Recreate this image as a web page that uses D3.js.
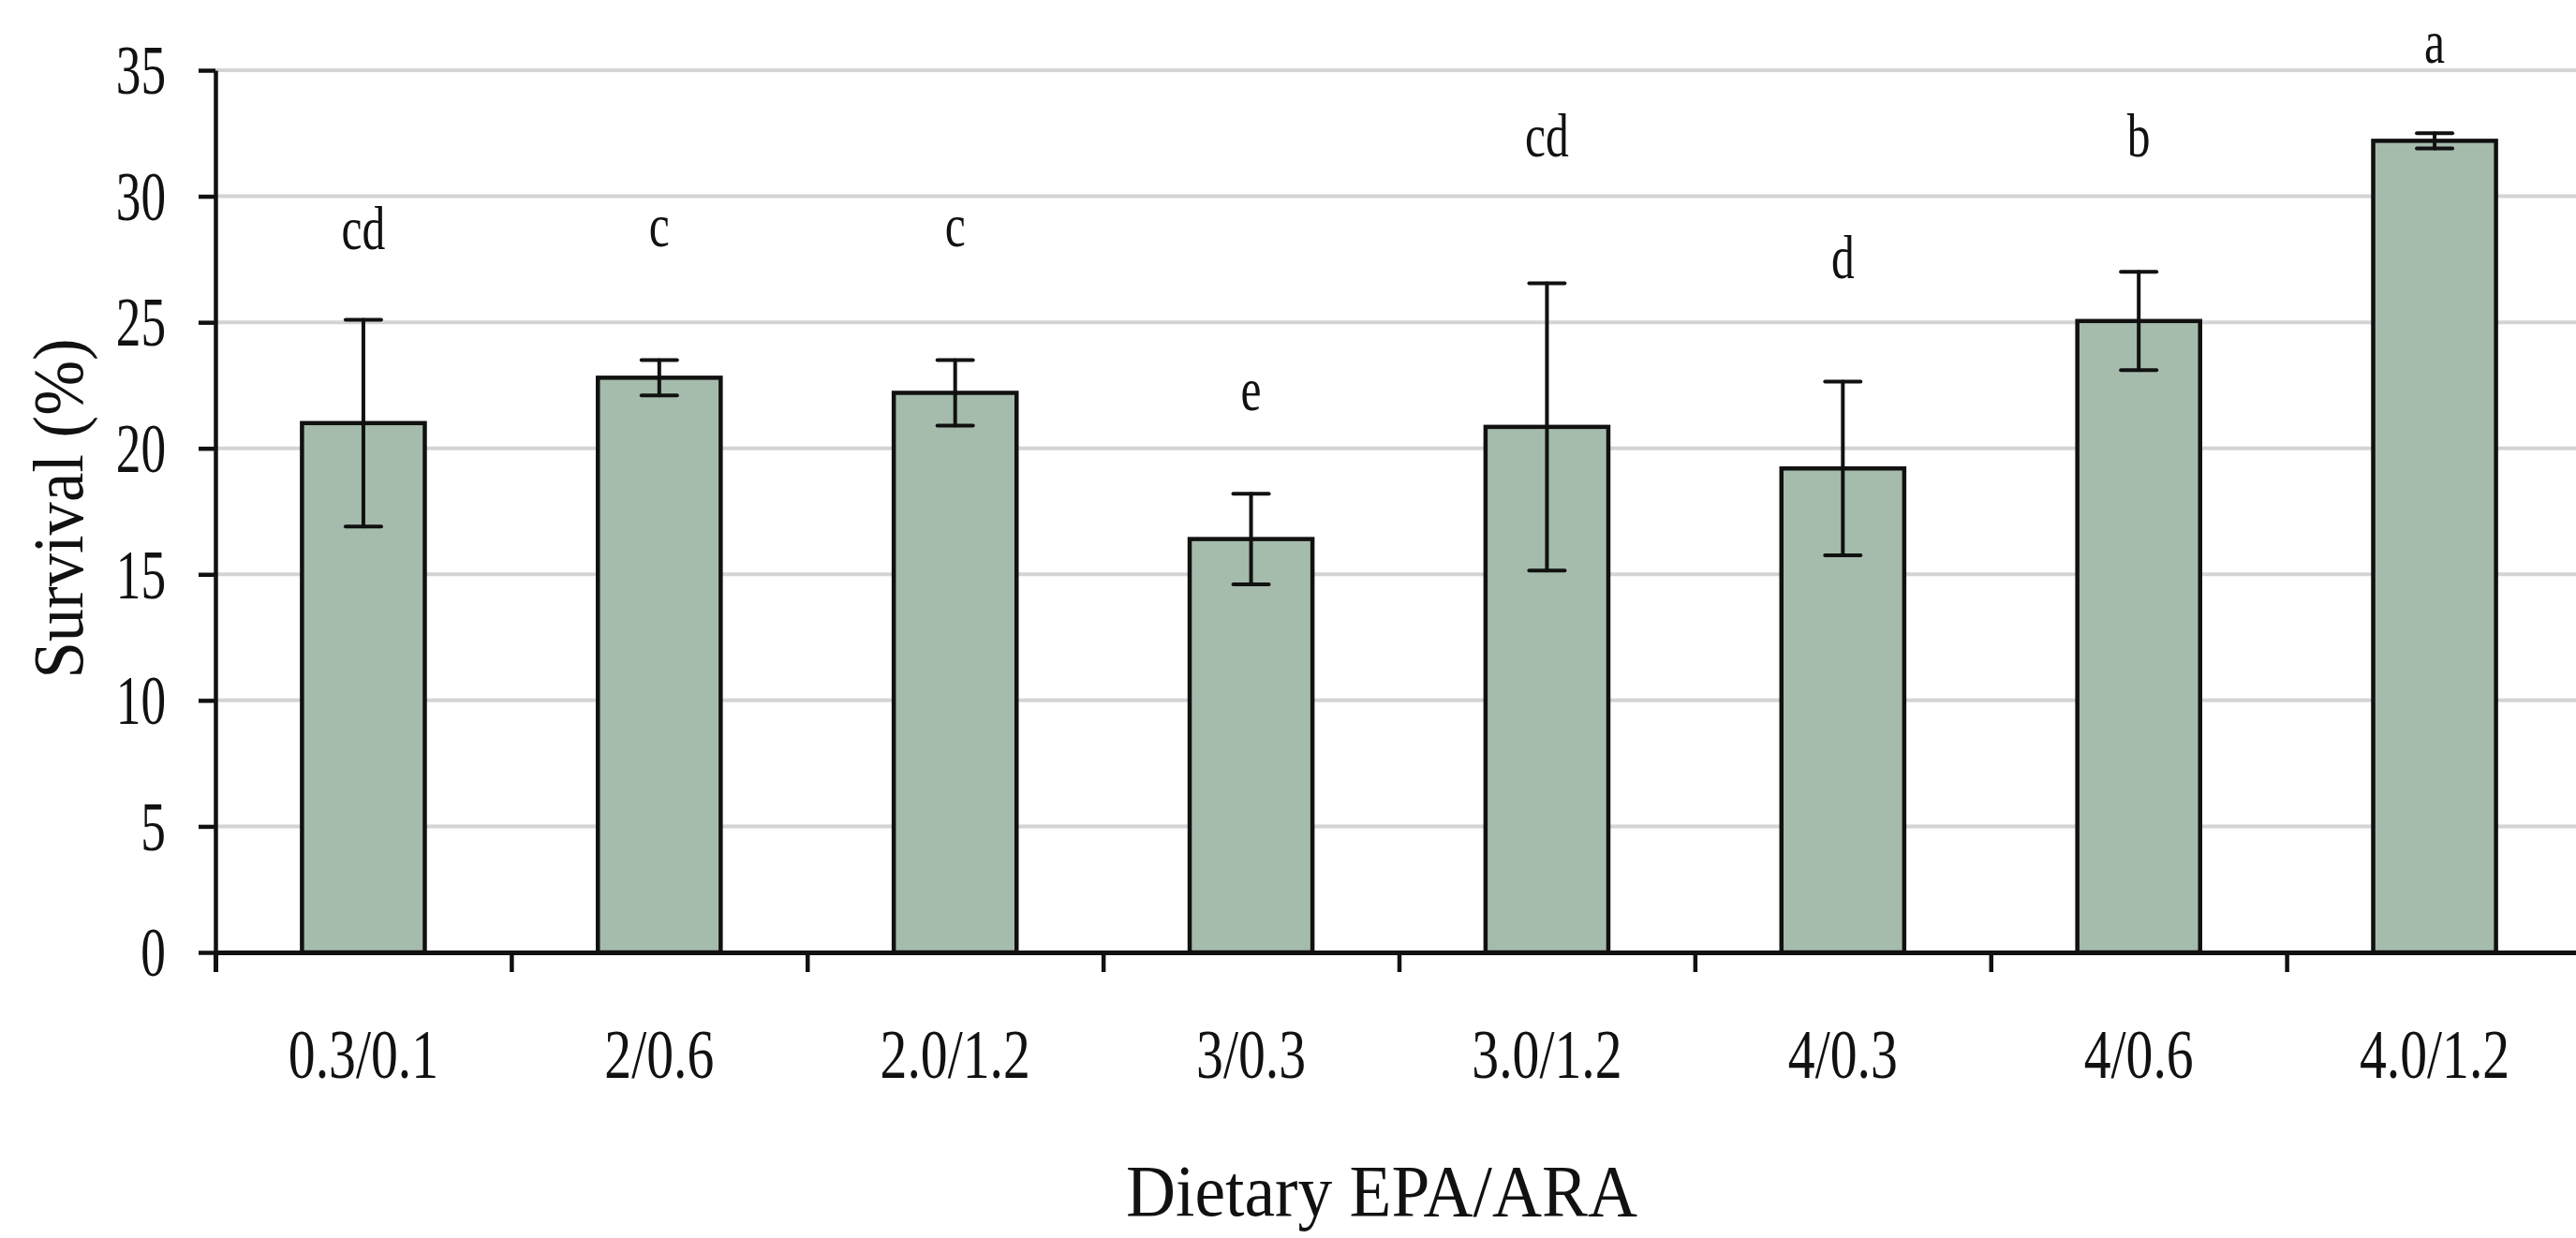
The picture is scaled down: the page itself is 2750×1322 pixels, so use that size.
<!DOCTYPE html>
<html>
<head>
<meta charset="utf-8">
<script src="https://cdn.jsdelivr.net/npm/d3@7"></script>
<style>
    html, body { margin: 0; padding: 0; background: #fff; }
    svg { display: block; font-family: 'Liberation Serif', 'Times New Roman', serif; }
</style>
</head>
<body>
<svg id="chart" width="2750" height="1322"></svg>
<script>
const categories = ['0.3/0.1', '2/0.6', '2.0/1.2', '3/0.3', '3.0/1.2', '4/0.3', '4/0.6', '4.0/1.2']
const survival = [21.0, 22.8, 22.2, 16.4, 20.85, 19.2, 25.05, 32.2]
const errors = [4.1, 0.7, 1.3, 1.8, 5.7, 3.45, 1.95, 0.3]
const letters = ['cd', 'c', 'c', 'e', 'cd', 'd', 'b', 'a']
const letterAt = [27.9, 28.0, 28.0, 21.5, 31.6, 26.75, 31.6, 35.3]
const yTicks = [0, 5, 10, 15, 20, 25, 30, 35]

const width = 2750
const height = 1322
const margin = { top: 75, right: -7, bottom: 305, left: 230 }
const plotBottom = height - margin.bottom
const SERIF = "'Liberation Serif', 'Times New Roman', serif"

const svg = d3.select('#chart')

const xScale = d3
    .scaleBand()
    .domain(categories)
    .range([margin.left, width - margin.right])
    .paddingInner(0.585)
    .paddingOuter(0.2925)

// boundary ticks sit between the categories, excel style
const edgeScale = d3
    .scaleLinear()
    .domain([0, categories.length])
    .range([margin.left, width - margin.right])

const yScale = d3.scaleLinear().domain([0, 35]).range([plotBottom, margin.top])

// grid
svg.append('g')
    .selectAll('line')
    .data(yTicks.filter(d => d > 0))
    .join('line')
    .attr('x1', margin.left)
    .attr('x2', width)
    .attr('y1', d => yScale(d))
    .attr('y2', d => yScale(d))
    .attr('stroke', '#d3d4d6')
    .attr('stroke-width', 4)

const data = categories.map((c, i) => ({
    cat: c,
    value: survival[i],
    err: errors[i],
    letter: letters[i],
    letterAt: letterAt[i]
}))

const cx = d => xScale(d.cat) + xScale.bandwidth() / 2

svg.append('g')
    .selectAll('rect')
    .data(data)
    .join('rect')
    .attr('x', d => xScale(d.cat))
    .attr('y', d => yScale(d.value))
    .attr('width', xScale.bandwidth())
    .attr('height', d => yScale(0) - yScale(d.value))
    .attr('fill', '#a5bbab')
    .attr('stroke', '#111')
    .attr('stroke-width', 4.5)

const errG = svg.append('g').attr('stroke', '#111').attr('stroke-width', 4).attr('stroke-linecap', 'round')
errG.selectAll('line.stem')
    .data(data)
    .join('line')
    .attr('class', 'stem')
    .attr('x1', cx)
    .attr('x2', cx)
    .attr('y1', d => yScale(d.value + d.err))
    .attr('y2', d => yScale(d.value - d.err))
errG.selectAll('line.capTop')
    .data(data)
    .join('line')
    .attr('class', 'capTop')
    .attr('x1', d => cx(d) - 19)
    .attr('x2', d => cx(d) + 19)
    .attr('y1', d => yScale(d.value + d.err))
    .attr('y2', d => yScale(d.value + d.err))
errG.selectAll('line.capBot')
    .data(data)
    .join('line')
    .attr('class', 'capBot')
    .attr('x1', d => cx(d) - 19)
    .attr('x2', d => cx(d) + 19)
    .attr('y1', d => yScale(d.value - d.err))
    .attr('y2', d => yScale(d.value - d.err))

// significance letters
const LETTER_SX = 0.75
svg.append('g')
    .selectAll('text')
    .data(data)
    .join('text')
    .attr('transform', d => `translate(${cx(d)},${yScale(d.letterAt)}) scale(${LETTER_SX},1)`)
    .attr('text-anchor', 'middle')
    .attr('font-size', 66)
    .attr('fill', '#111')
    .text(d => d.letter)

// y axis
const Y_SX = 0.73
svg.append('g')
    .attr('transform', `translate(${margin.left},0)`)
    .call(d3.axisLeft(yScale).tickValues(yTicks).tickSize(18).tickSizeOuter(0).tickPadding(0))
    .attr('font-family', SERIF)
    .call(g => g.select('.domain').attr('stroke', '#111').attr('stroke-width', 4.5))
    .call(g => g.selectAll('.tick line').attr('stroke', '#111').attr('stroke-width', 4.5))
    .call(g =>
        g
            .selectAll('.tick text')
            .attr('x', -53 / Y_SX)
            .attr('dy', '0.34em')
            .attr('transform', `scale(${Y_SX},1)`)
            .attr('font-size', 73)
            .attr('fill', '#111')
    )

// x axis: labels at band centres, marks at the edges
const X_SX = 0.79
svg.append('g')
    .attr('transform', `translate(0,${plotBottom})`)
    .call(d3.axisBottom(edgeScale).tickValues(d3.range(categories.length + 1)).tickSize(21).tickFormat(''))
    .call(g => g.select('.domain').attr('stroke', '#111').attr('stroke-width', 5))
    .call(g => g.selectAll('.tick line').attr('stroke', '#111').attr('stroke-width', 4.5))

svg.append('g')
    .attr('transform', `translate(0,${plotBottom})`)
    .call(d3.axisBottom(xScale).tickSize(0).tickPadding(0))
    .attr('font-family', SERIF)
    .call(g => g.select('.domain').remove())
    .call(g =>
        g
            .selectAll('.tick text')
            .attr('y', 134)
            .attr('dy', 0)
            .attr('transform', `scale(${X_SX},1)`)
            .attr('font-size', 73)
            .attr('fill', '#111')
    )

// axis titles
svg.append('text')
    .attr('transform', `translate(1475,1298) scale(0.93,1)`)
    .attr('text-anchor', 'middle')
    .attr('font-size', 79)
    .attr('fill', '#111')
    .text('Dietary EPA/ARA')

svg.append('text')
    .attr('transform', `translate(88,543) rotate(-90) scale(0.93,1)`)
    .attr('text-anchor', 'middle')
    .attr('font-size', 76)
    .attr('fill', '#111')
    .text('Survival (%)')
</script>
</body>
</html>
